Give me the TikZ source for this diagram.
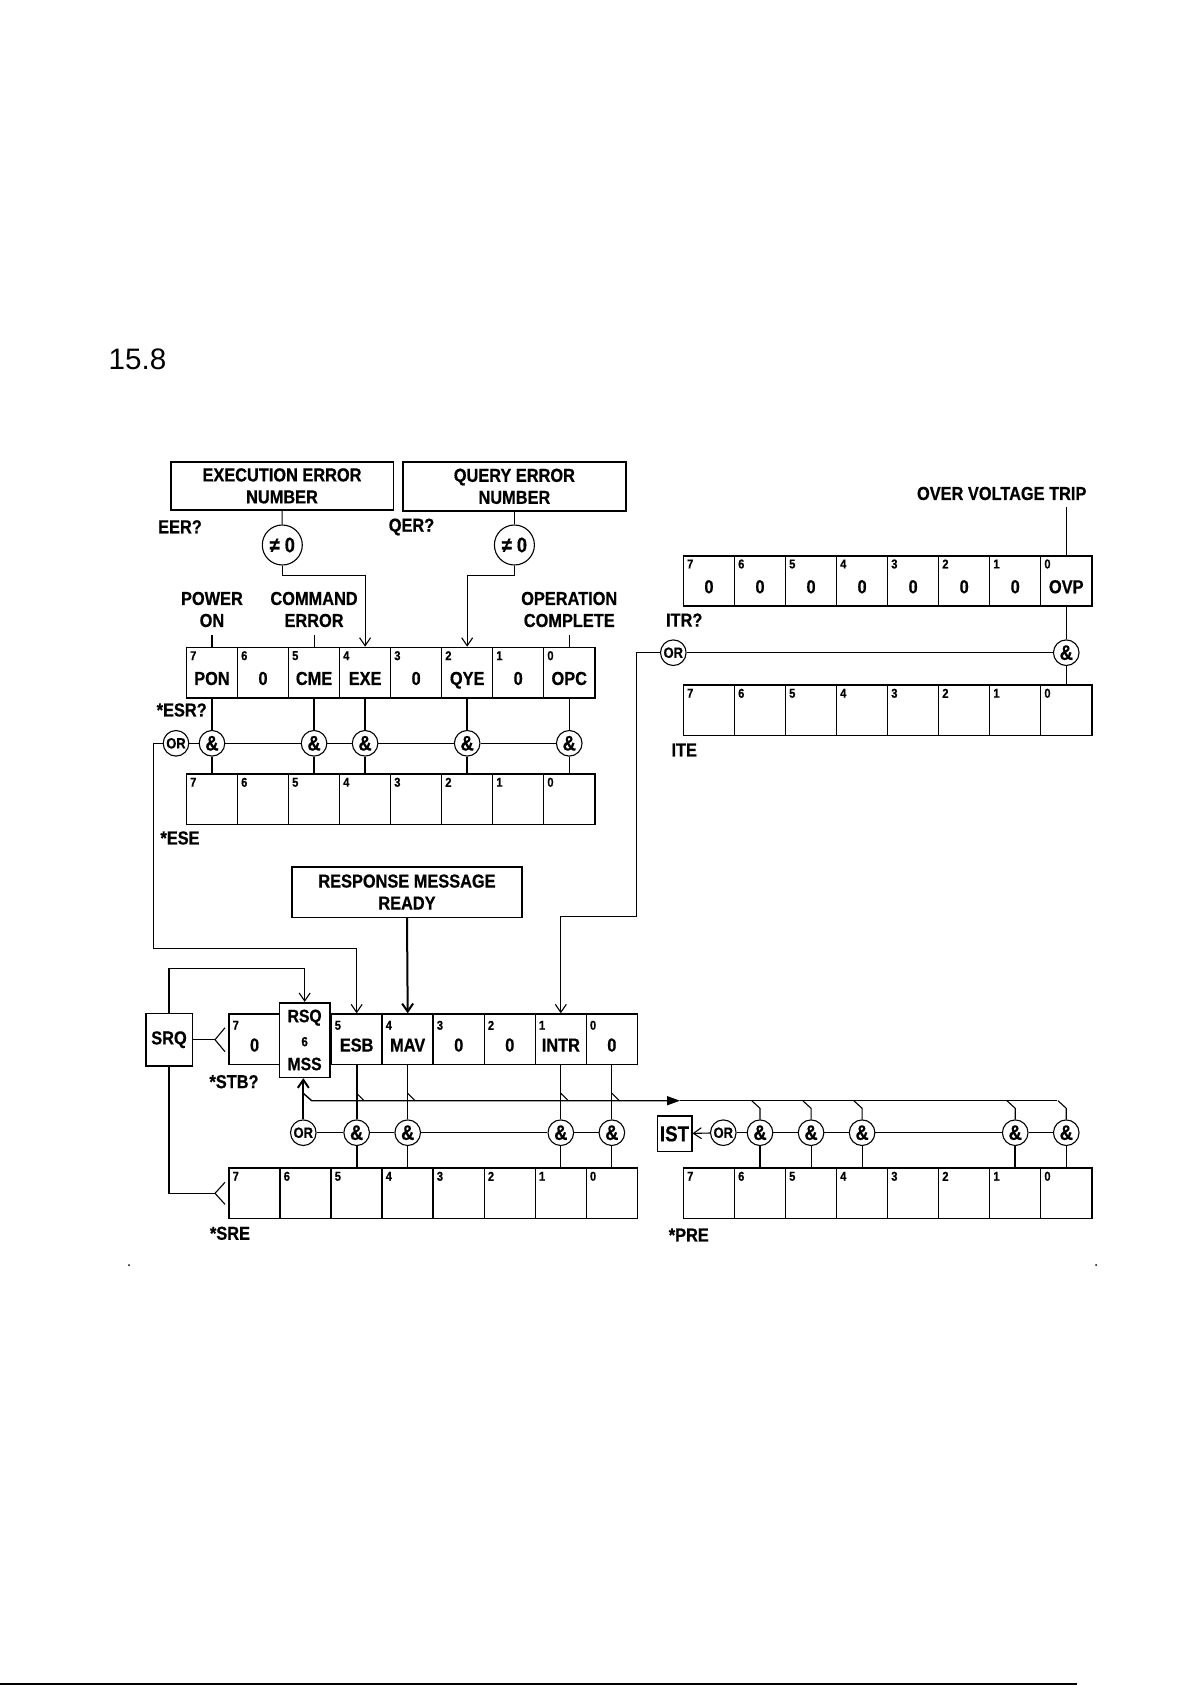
\documentclass[tikz,border=0pt]{standalone}
\usepackage{fontspec}
\setmainfont{Liberation Sans}[FakeStretch=0.87, BoldFeatures={FakeBold=0.6}]
\newfontfamily\headfont{Liberation Sans}
\usetikzlibrary{calc,positioning,arrows.meta}

\begin{document}
\begin{tikzpicture}[x=0.5pt, y=-0.5pt, line width=0.55pt,
  font=\bfseries\fontsize{9.4pt}{11pt}\selectfont,
  cell/.style={draw, line width=0.75pt, minimum width=25.52pt, minimum height=25.2pt, inner sep=0pt, anchor=north west},
  bitno/.style={font=\bfseries\fontsize{6.4pt}{7pt}\selectfont, inner sep=0pt},
  bitval/.style={inner sep=0pt, text height=6.8pt, text depth=0pt},
  gate/.style={draw, circle, minimum size=12.8pt, inner sep=0pt, fill=white, font=\bfseries\fontsize{10.5pt}{11pt}\selectfont},
  orgate/.style={gate, font=\bfseries\fontsize{7.4pt}{8pt}\selectfont},
  txtbox/.style={draw, line width=0.8pt, align=center, inner sep=0pt},
  lbl/.style={align=center, inner sep=0pt},
  arr/.style={-{Straight Barb[length=4pt,width=5.5pt]}},
  bustip/.style={-{Triangle[length=6.5pt,width=4.5pt]}},
  heavy/.style={line width=1pt}]
\useasboundingbox (0,0) rectangle (1192,1685);

% Cell width of a register
\def\cw{51.04}

% Section number
\node[font=\headfont\fontsize{14.8pt}{16pt}\selectfont, inner sep=0pt] (secno) at (137.5,359) {15.8};

% Error number boxes
\node[txtbox, minimum width=111.3pt, minimum height=24.15pt] (EEN) at (282,485.9) {EXECUTION ERROR\\NUMBER};
\node[txtbox, minimum width=111.65pt, minimum height=24.65pt] (QEN) at (514.4,486.35) {QUERY ERROR\\NUMBER};
\node[gate, minimum size=20pt] (EENnz) at (282.3,545) {≠ 0};
\node[gate, minimum size=20pt] (QENnz) at (514.4,545) {≠ 0};
\node[lbl] (EERq) at (180,526.7) {EER?};
\node[lbl] (QERq) at (411.5,527) {QER?};

% Registers with eight cells
\foreach \reg/\x/\y in {ESR/185.7/646.7, ESE/185.7/773.3, ITR/682.7/555, ITE/682.7/684.3, SRE/228.3/1167.3, PRE/682.7/1167.3} {
  \foreach \b [count=\i from 0] in {7,6,5,4,3,2,1,0} {
    \node[cell] (\reg\b) at ({\x+\i*\cw},\y) {};
    \node[bitno] (\reg no\b) at ($(\reg\b.north west)+(7.5,9)$) {\b};
  }
}

% Status byte (bit 6 is the RSQ/MSS box)
\foreach \b/\i in {7/0, 5/2, 4/3, 3/4, 2/5, 1/6, 0/7} {
  \node[cell] (STB\b) at ({228.3+\i*\cw},1013.3) {};
  \node[bitno] (STBno\b) at ($(STB\b.north west)+(7.5,12)$) {\b};
}
\node[txtbox, fill=white, minimum width=25.35pt, minimum height=37.3pt, font=\bfseries\fontsize{9pt}{12pt}\selectfont] (MSS) at (304.65,1040) {RSQ\\{\fontsize{6.6pt}{12pt}\selectfont 6}\\MSS};

% Bit values
\foreach \reg/\b/\v in {ESR/7/PON, ESR/6/0, ESR/5/CME, ESR/4/EXE, ESR/3/0, ESR/2/QYE, ESR/1/0, ESR/0/OPC,
  ITR/7/0, ITR/6/0, ITR/5/0, ITR/4/0, ITR/3/0, ITR/2/0, ITR/1/0, ITR/0/OVP,
  STB/7/0, STB/5/ESB, STB/4/MAV, STB/3/0, STB/2/0, STB/1/INTR, STB/0/0} {
  \node[bitval] (\reg val\b) at ($(\reg\b.center)+(0,5.5)$) {\v};
}

% Event labels above the registers
\node[lbl, anchor=south, inner sep=3.5pt] (PWRON) at ($(ESR7.north)+(0,-12)$) {POWER\\ON};
\node[lbl, anchor=south, inner sep=3.5pt] (CMDERR) at ($(ESR5.north)+(0,-12)$) {COMMAND\\ERROR};
\node[lbl, anchor=south, inner sep=3.5pt] (OPCOMP) at ($(ESR0.north)+(0,-12)$) {OPERATION\\COMPLETE};
\node[lbl, anchor=south, inner sep=3pt] (OVTRIP) at (1001.7,506.7) {OVER VOLTAGE TRIP};
\foreach \src/\b in {PWRON/7, CMDERR/5, OPCOMP/0} {
  \draw (\src.south) -- (ESR\b.north);
}
\draw (OVTRIP.south -| ITR0.north) -- (ITR0.north);

% Error numbers into the ESR
\draw (EEN) -- (EENnz);
\draw (QEN) -- (QENnz);
\draw[arr] (EENnz.south) -- ++(0,10) -| (ESR4.north);
\draw[arr] (QENnz.south) -- ++(0,10) -| (ESR2.north);

% ESR / ESE gates
\node[orgate] (ESRor) at (176,743.3) {OR};
\foreach \b/\lw in {7/0.55pt, 5/1pt, 4/1pt, 2/1pt, 0/0.55pt} {
  \node[gate] (ESRand\b) at (ESR\b.center |- ESRor) {\&};
  \draw[line width=\lw] (ESR\b.south) -- (ESRand\b.north);
  \draw[line width=\lw] (ESRand\b.south) -- (ESE\b.north);
}
\foreach \v/\w in {ESRor/ESRand7, ESRand7/ESRand5, ESRand5/ESRand4, ESRand4/ESRand2, ESRand2/ESRand0} {
  \draw (\v) -- (\w);
}
\node[lbl] (ESRq) at (181.7,710) {*ESR?};
\node[lbl] (ESEl) at (180,838) {*ESE};

% ITR / ITE gates
\node[orgate] (ITRor) at (673.3,652.7) {OR};
\node[gate] (ITRand0) at (ITR0.center |- ITRor) {\&};
\draw (ITR0.south) -- (ITRand0.north);
\draw (ITRand0.south) -- (ITE0.north);
\draw (ITRor) -- (ITRand0);
\node[lbl] (ITRq) at (684.2,620) {ITR?};
\node[lbl] (ITEl) at (684.2,750) {ITE};

% Summary lines into the status byte
\coordinate (ESBturn) at (153.3,948.3);
\coordinate (ITRturn) at (636.4,916.7);
\draw[arr] (ESRor.west) -| (ESBturn) -| (STB5.north);
\draw[arr] (ITRor.west) -| (ITRturn) -| (STB1.north);
\node[txtbox, minimum width=115.15pt, minimum height=25.3pt] (RMR) at (407,892) {RESPONSE MESSAGE\\READY};
\draw[arr, heavy] (RMR.south) -- (STB4.north);

% Service request
\node[txtbox, minimum width=23.3pt, minimum height=26.35pt] (SRQ) at (169,1039.7) {SRQ};
\coordinate (STBtap) at (215,1039.7);
\coordinate (SREtap) at (215,1193.3);
\draw (SRQ.east) -- (STBtap);
\draw (STBtap) ++(10,-12) -- (STBtap) -- ++(10,12);
\draw (SRQ.south) |- (SREtap);
\draw (SREtap) ++(10,-11) -- (SREtap) -- ++(10,11);
\draw[arr] (SRQ.north) -- ++(0,-44) -| (MSS.north);
\node[lbl] (STBq) at (234,1081.7) {*STB?};
\node[lbl] (SREl) at (230,1233.3) {*SRE};

% Status / SRE gates
\node[orgate] (STBor) at (303.3,1132.7) {OR};
\draw[arr, heavy] (STBor) -- (STBor |- MSS.south);
\foreach \b/\lw in {5/1pt, 4/0.55pt, 1/0.55pt, 0/0.55pt} {
  \node[gate] (STBand\b) at (STB\b.center |- STBor) {\&};
  \draw[line width=\lw] (STB\b.south) -- (STBand\b.north);
  \draw[line width=\lw] (STBand\b.south) -- (SRE\b.north);
}
\foreach \v/\w in {STBor/STBand5, STBand5/STBand4, STBand4/STBand1, STBand1/STBand0} {
  \draw (\v) -- (\w);
}

% Bus to the parallel poll
\coordinate (busstart) at (311.7,1100.7);
\coordinate (busarrow) at (680,1100.7);
\coordinate (busend) at (1057.2,1100.7);
\draw[bustip, line width=0.7pt] (busstart) ++(-8.4,-7.4) -- (busstart) -- (busarrow);
\draw (busarrow) -- (busend);
\foreach \b in {5,4,1,0} {
  \draw (busstart -| STB\b.south) ++(0,-7.4) -- ++(7.5,7.4);
}

% PRE gates
\node[txtbox, minimum width=17.2pt, minimum height=17.85pt, font=\bfseries\fontsize{10.8pt}{12pt}\selectfont] (IST) at (674.5,1133.8) {IST};
\node[orgate] (PREor) at (723.3,1132.7) {OR};
\draw[arr] (PREor) -- (IST);
\foreach \b/\lw in {6/0.55pt, 5/0.55pt, 4/0.55pt, 1/1pt, 0/0.55pt} {
  \node[gate] (PREand\b) at (PRE\b.center |- PREor) {\&};
  \draw (busstart -| PRE\b.north) ++(-8.3,0) -- ++(8.3,7.6) -- (PREand\b.north);
  \draw[line width=\lw] (PREand\b.south) -- (PRE\b.north);
}
\foreach \v/\w in {PREor/PREand6, PREand6/PREand5, PREand5/PREand4, PREand4/PREand1, PREand1/PREand0} {
  \draw (\v) -- (\w);
}
\node[lbl] (PREl) at (688.8,1235) {*PRE};

% Page marks
\fill (129,1265) circle (1);
\fill (1096,1265) circle (1);
\draw[line width=1pt] (0,1684) -- (1076.7,1684);
\end{tikzpicture}
\end{document}
